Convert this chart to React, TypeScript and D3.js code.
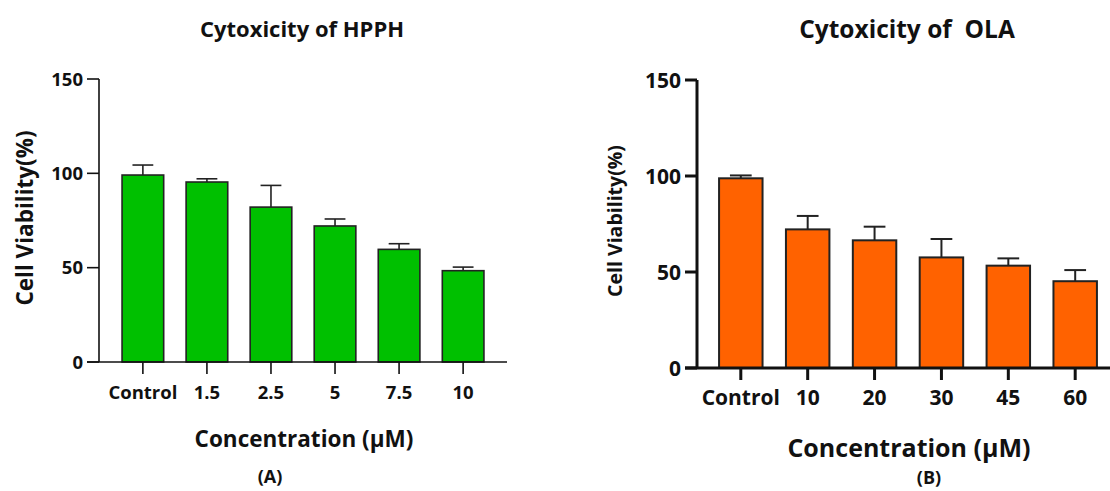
import React from "react";
import * as d3 from "d3";

// values (mean, upper SD)
const hpphCategories = ["Control", "1.5", "2.5", "5", "7.5", "10"];
const hpphMeans = [99.1, 95.4, 82.1, 72.1, 59.7, 48.4];
const hpphErrors = [5.3, 1.7, 11.5, 3.7, 3.0, 1.9];

const olaCategories = ["Control", "10", "20", "30", "45", "60"];
const olaMeans = [98.8, 72.2, 66.5, 57.6, 53.3, 45.2];
const olaErrors = [1.5, 7.0, 7.1, 9.6, 3.8, 5.8];

const yTicks = [0, 50, 100, 150];

const FONT = "'Open Sans', sans-serif";

interface PanelProps {
  title: string;
  tag: string;
  categories: string[];
  means: number[];
  errors: number[];
  color: string;
  x0: number;
  x1: number;
  yTop: number;
  yBottom: number;
  axisWidth: number;
  barStroke: number;
  tickFont: number;
  titleFont: number;
  titleX: number;
  titleY: number;
  yLabelFont: number;
  yLabelX: number;
  yLabelY: number;
  xLabelFont: number;
  xLabelX: number;
  xLabelY: number;
  tickLabelY: number;
  tagY: number;
  tagX: number;
  paddingOuter: number;
}

const Panel: React.FC<PanelProps> = (p) => {
  const x = d3
    .scaleBand<string>()
    .domain(p.categories)
    .range([p.x0, p.x1])
    .paddingInner(0.35)
    .paddingOuter(p.paddingOuter);
  const y = d3.scaleLinear().domain([0, 150]).range([p.yBottom, p.yTop]);
  const bw = x.bandwidth();
  const tick = 12;

  return (
    <g fontFamily={FONT} fontWeight="bold" fill="#111">
      <text x={p.titleX} y={p.titleY} textAnchor="middle" fontSize={p.titleFont} style={{ whiteSpace: "pre" }}>
        {p.title}
      </text>

      {/* bars with upper error bars */}
      {p.categories.map((c, i) => (
        <g key={c}>
          <line
            x1={x(c)! + bw / 2}
            x2={x(c)! + bw / 2}
            y1={y(p.means[i])}
            y2={y(p.means[i] + p.errors[i])}
            stroke="#222"
            strokeWidth={p.barStroke}
          />
          <line
            x1={x(c)! + bw / 2 - bw / 4}
            x2={x(c)! + bw / 2 + bw / 4}
            y1={y(p.means[i] + p.errors[i])}
            y2={y(p.means[i] + p.errors[i])}
            stroke="#222"
            strokeWidth={p.barStroke}
          />
          <rect
            x={x(c)}
            y={y(p.means[i])}
            width={bw}
            height={y(0) - y(p.means[i])}
            fill={p.color}
            stroke="#222"
            strokeWidth={p.barStroke}
          />
        </g>
      ))}

      {/* y axis */}
      <line x1={p.x0} x2={p.x0} y1={y(150)} y2={y(0)} stroke="#111" strokeWidth={p.axisWidth} />
      {yTicks.map((t) => (
        <g key={t}>
          <line x1={p.x0 - tick} x2={p.x0} y1={y(t)} y2={y(t)} stroke="#111" strokeWidth={p.axisWidth} />
          <text x={p.x0 - tick - 4} y={y(t)} dy="0.36em" textAnchor="end" fontSize={p.tickFont}>
            {t}
          </text>
        </g>
      ))}

      {/* x axis */}
      <line x1={p.x0 - tick} x2={p.x1} y1={y(0)} y2={y(0)} stroke="#111" strokeWidth={p.axisWidth} />
      {p.categories.map((c) => (
        <g key={c}>
          <line
            x1={x(c)! + bw / 2}
            x2={x(c)! + bw / 2}
            y1={y(0)}
            y2={y(0) + tick}
            stroke="#111"
            strokeWidth={p.axisWidth}
          />
          <text x={x(c)! + bw / 2} y={p.tickLabelY} textAnchor="middle" fontSize={p.tickFont}>
            {c}
          </text>
        </g>
      ))}

      <text
        transform={`translate(${p.yLabelX},${p.yLabelY}) rotate(-90)`}
        textAnchor="middle"
        fontSize={p.yLabelFont}
      >
        Cell Viability(%)
      </text>
      <text x={p.xLabelX} y={p.xLabelY} textAnchor="middle" fontSize={p.xLabelFont}>
        Concentration (µM)
      </text>
      <text x={p.tagX} y={p.tagY} textAnchor="middle" fontSize={18}>
        {p.tag}
      </text>
    </g>
  );
};

export default function App() {
  return (
    <svg
      width={1110}
      height={491}
      style={{ position: "absolute", left: 0, top: 0, background: "#fff" }}
    >
      <Panel
        title="Cytoxicity of HPPH"
        tag="(A)"
        categories={hpphCategories}
        means={hpphMeans}
        errors={hpphErrors}
        color="#00c000"
        x0={99}
        x1={507}
        yTop={79}
        yBottom={362}
        axisWidth={1.6}
        barStroke={1.6}
        tickFont={18.5}
        titleFont={22}
        titleX={302}
        titleY={37}
        yLabelFont={22.5}
        yLabelX={33}
        yLabelY={218}
        xLabelFont={22.5}
        xLabelX={304}
        xLabelY={447}
        tickLabelY={399}
        tagX={270}
        tagY={483}
        paddingOuter={0.36}
      />
      <Panel
        title="Cytoxicity of  OLA"
        tag="(B)"
        categories={olaCategories}
        means={olaMeans}
        errors={olaErrors}
        color="#ff6200"
        x0={697}
        x1={1119}
        yTop={80}
        yBottom={368}
        axisWidth={3}
        barStroke={2}
        tickFont={21}
        titleFont={24.5}
        titleX={907}
        titleY={38}
        yLabelFont={19.5}
        yLabelX={622}
        yLabelY={221}
        xLabelFont={25}
        xLabelX={909}
        xLabelY={457}
        tickLabelY={405}
        tagX={929}
        tagY={484}
        paddingOuter={0.33}
      />
    </svg>
  );
}
